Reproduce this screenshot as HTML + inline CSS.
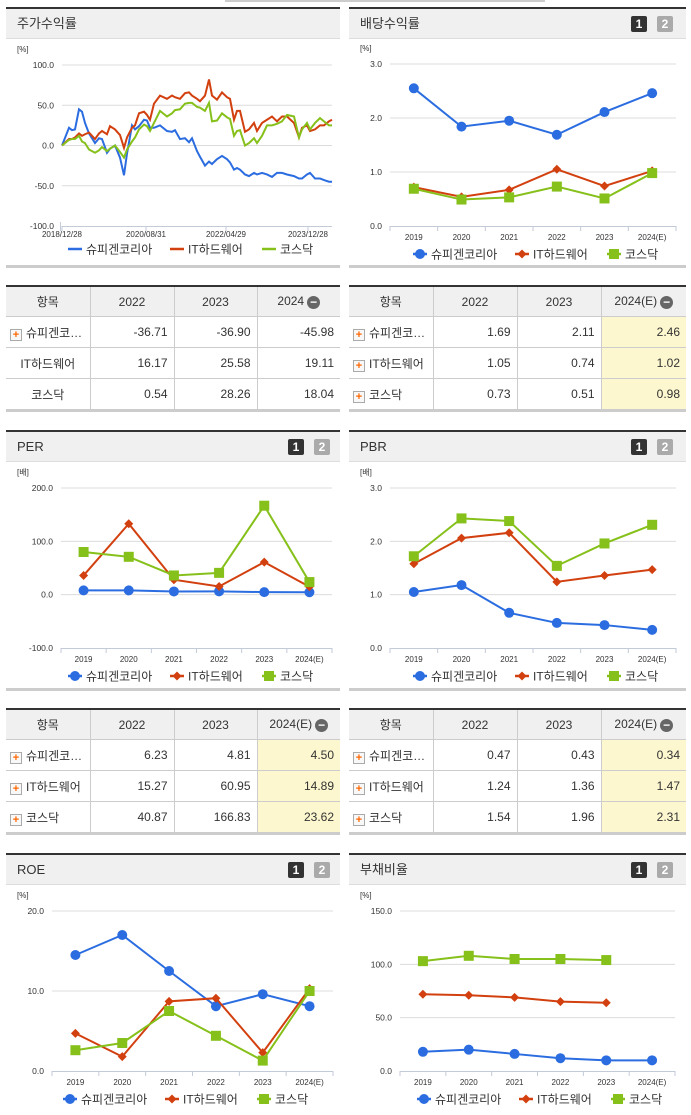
<!DOCTYPE html>
<html><head><meta charset="utf-8">
<style>
body{margin:0;width:691px;height:1115px;position:relative;background:#fff;font-family:"Liberation Sans","Noto Sans CJK KR",sans-serif;overflow:hidden;color:#333}
.panel{position:absolute;border-top:2px solid #333;border-bottom:3px solid #ccc}
.hdr{height:29px;background:#f0f0f0;border-bottom:1px solid #ddd;font-size:13px;line-height:29px;padding-left:11px;position:relative}
.btn{position:absolute;top:7px;width:16px;height:16px;font-size:12px;font-weight:bold;line-height:16px;text-align:center;color:#fff;border-radius:2px}
.b1{background:#333}.b2{background:#aaa}
table{position:absolute;border-collapse:collapse;border-top:2px solid #333;border-bottom:3px solid #ccc;font-size:12px;table-layout:fixed}
td,th{border:1px solid #ccc;height:30px;padding:0 6px;font-weight:normal}
th{background:#f0f0f0;text-align:center;height:29px}
td{text-align:right}
td.n{text-align:left;padding-left:4px;white-space:nowrap}
td.c{text-align:center}
td.h,th.h{background:#fdf7cf}
th.h{background:#f0f0f0}
.pl{display:inline-block;width:10px;height:10px;border:1px solid #aaa;background:#f8f8f8;color:#f60;font-size:11px;line-height:10px;text-align:center;font-weight:bold;margin-right:4px;vertical-align:-1px}
.mi{display:inline-block;width:13px;height:13px;border-radius:50%;background:#666;color:#fff;line-height:12px;font-size:12px;text-align:center;font-weight:bold;vertical-align:-1px;margin-left:3px}
table tr td:first-child,table tr th:first-child{border-left:none}
table tr td:last-child,table tr th:last-child{border-right:none}
</style></head><body>
<div style="position:absolute;left:225px;top:0;width:320px;height:2px;background:#ccc"></div>

<div class="panel" style="left:6px;top:7px;width:334px;height:256px"><div class="hdr">주가수익률</div></div>
<div class="panel" style="left:349px;top:7px;width:337px;height:256px"><div class="hdr">배당수익률<span class="btn b1" style="left:282px">1</span><span class="btn b2" style="left:308px">2</span></div></div>
<div class="panel" style="left:6px;top:430px;width:334px;height:256px"><div class="hdr">PER<span class="btn b1" style="left:282px">1</span><span class="btn b2" style="left:308px">2</span></div></div>
<div class="panel" style="left:349px;top:430px;width:337px;height:256px"><div class="hdr">PBR<span class="btn b1" style="left:282px">1</span><span class="btn b2" style="left:308px">2</span></div></div>
<div class="panel" style="left:6px;top:853px;width:334px;height:260px;border-bottom:none"><div class="hdr">ROE<span class="btn b1" style="left:282px">1</span><span class="btn b2" style="left:308px">2</span></div></div>
<div class="panel" style="left:349px;top:853px;width:337px;height:260px;border-bottom:none"><div class="hdr">부채비율<span class="btn b1" style="left:282px">1</span><span class="btn b2" style="left:308px">2</span></div></div>

<table style="left:6px;top:285px;width:334px">
<colgroup><col style="width:84px"><col style="width:84px"><col style="width:83px"><col style="width:83px"></colgroup>
<tr><th>항목</th><th>2022</th><th>2023</th><th>2024<span class="mi">−</span></th></tr>
<tr><td class="n"><span class="pl">+</span>슈피겐코…</td><td>-36.71</td><td>-36.90</td><td>-45.98</td></tr>
<tr><td class="c">IT하드웨어</td><td>16.17</td><td>25.58</td><td>19.11</td></tr>
<tr><td class="c">코스닥</td><td>0.54</td><td>28.26</td><td>18.04</td></tr>
</table>
<table style="left:349px;top:285px;width:337px">
<colgroup><col style="width:84px"><col style="width:84px"><col style="width:84px"><col style="width:85px"></colgroup>
<tr><th>항목</th><th>2022</th><th>2023</th><th>2024(E)<span class="mi">−</span></th></tr>
<tr><td class="n"><span class="pl">+</span>슈피겐코…</td><td>1.69</td><td>2.11</td><td class="h">2.46</td></tr>
<tr><td class="n"><span class="pl">+</span>IT하드웨어</td><td>1.05</td><td>0.74</td><td class="h">1.02</td></tr>
<tr><td class="n"><span class="pl">+</span>코스닥</td><td>0.73</td><td>0.51</td><td class="h">0.98</td></tr>
</table>
<table style="left:6px;top:708px;width:334px">
<colgroup><col style="width:84px"><col style="width:84px"><col style="width:83px"><col style="width:83px"></colgroup>
<tr><th>항목</th><th>2022</th><th>2023</th><th>2024(E)<span class="mi">−</span></th></tr>
<tr><td class="n"><span class="pl">+</span>슈피겐코…</td><td>6.23</td><td>4.81</td><td class="h">4.50</td></tr>
<tr><td class="n"><span class="pl">+</span>IT하드웨어</td><td>15.27</td><td>60.95</td><td class="h">14.89</td></tr>
<tr><td class="n"><span class="pl">+</span>코스닥</td><td>40.87</td><td>166.83</td><td class="h">23.62</td></tr>
</table>
<table style="left:349px;top:708px;width:337px">
<colgroup><col style="width:84px"><col style="width:84px"><col style="width:84px"><col style="width:85px"></colgroup>
<tr><th>항목</th><th>2022</th><th>2023</th><th>2024(E)<span class="mi">−</span></th></tr>
<tr><td class="n"><span class="pl">+</span>슈피겐코…</td><td>0.47</td><td>0.43</td><td class="h">0.34</td></tr>
<tr><td class="n"><span class="pl">+</span>IT하드웨어</td><td>1.24</td><td>1.36</td><td class="h">1.47</td></tr>
<tr><td class="n"><span class="pl">+</span>코스닥</td><td>1.54</td><td>1.96</td><td class="h">2.31</td></tr>
</table>

<svg id="s" width="691" height="1115" style="position:absolute;left:0;top:0"></svg>

<script>
// ---- data ----
const stockWeeks=[0,7,10,13,17,20,23,27,33,37,40,45,48,53,58,62,65,70,73,77,82,85,88,92,98,105,110,113,118,123,127,130,135,138,143,147,150,155,160,165,168,172,175,178,183,187,192,195,200,205,210,215,220,225,232,237,240,245,248,253,258,262,267,270];
const stockSpigen=[0,22,19,20,45,42,28,15,3,9,8,-9,-4,0,-15,-37,-10,25,20,24,32,31,22,22,25,18,17,19,8,9,4,9,-7,-14,-25,-20,-23,-17,-13,-17,-21,-30,-28,-30,-36,-38,-34,-36,-34,-36,-39,-34,-34,-36,-38,-41,-41,-36,-34,-41,-41,-43,-45,-45];
const stockIT=[0,8,8,10,15,12,14,16,8,15,18,14,24,20,13,-3,10,22,25,40,42,38,32,52,62,58,62,60,58,65,66,62,58,55,62,82,62,57,66,60,58,32,43,43,17,20,28,18,28,32,36,30,36,36,28,10,22,25,18,20,25,25,30,32];
const stockKosdaq=[0,7,8,8,12,5,3,-5,-9,-6,-2,-7,-4,0,-8,-15,-5,5,10,20,26,24,18,28,43,36,40,44,45,52,53,53,48,47,43,53,30,31,40,35,33,12,18,19,0,3,9,3,12,25,25,27,30,38,36,10,20,28,20,28,34,30,25,25];
const stockTickWeeks=[0,84,164,246];
const stockTickLabels=["2018/12/28","2020/08/31","2022/04/29","2023/12/28"];
const stockYTicks=[100,50,0,-50,-100];

const years=["2019","2020","2021","2022","2023","2024(E)"];
const divSpigen=[2.55,1.84,1.95,1.69,2.11,2.46];
const divIT=[0.72,0.54,0.67,1.05,0.74,1.02];
const divKosdaq=[0.69,0.49,0.53,0.73,0.51,0.98];
const divYTicks=[3,2,1,0];

const perSpigen=[8,8,6,6.23,4.81,4.5];
const perIT=[36,133,28,15.27,60.95,14.89];
const perKosdaq=[80,71,36,40.87,166.83,23.62];
const perYTicks=[200,100,0,-100];

const pbrSpigen=[1.05,1.18,0.66,0.47,0.43,0.34];
const pbrIT=[1.58,2.06,2.16,1.24,1.36,1.47];
const pbrKosdaq=[1.72,2.43,2.38,1.54,1.96,2.31];
const pbrYTicks=[3,2,1,0];

const roeSpigen=[14.5,17,12.5,8.1,9.6,8.1];
const roeIT=[4.7,1.8,8.7,9.1,2.3,10.3];
const roeKosdaq=[2.6,3.5,7.5,4.4,1.3,10];
const roeYTicks=[20,10,0];

const debtSpigen=[18,20,16,12,10,10];
const debtIT=[72,71,69,65,64];
const debtKosdaq=[103,108,105,105,104];
const debtYTicks=[150,100,50,0];

const names=["슈피겐코리아","IT하드웨어","코스닥"];
const colors=["#2b6de0","#d2400f","#86c01a"];

// ---- drawing ----
const svg=document.getElementById('s');
const NS="http://www.w3.org/2000/svg";
function mk(tag,attrs,parent){const e=document.createElementNS(NS,tag);for(const k in attrs)e.setAttribute(k,attrs[k]);(parent||svg).appendChild(e);return e;}
function txt(x,y,s,size,anchor,parent){const t=mk('text',{x:x,y:y,'font-size':size,'text-anchor':anchor||'start',fill:'#333','font-family':'"Liberation Sans","Noto Sans CJK KR",sans-serif'},parent);t.textContent=s;return t;}

function marker(g,kind,x,y,c){
  if(kind===0){const m=mk('circle',{cx:x,cy:y,r:5,fill:c},g);}
  else if(kind===1){const m=mk('polygon',{points:`${x},${y-4.5} ${x+4.5},${y} ${x},${y+4.5} ${x-4.5},${y}`,fill:c},g);}
  else {const m=mk('rect',{x:x-5,y:y-5,width:10,height:10,fill:c},g);}
}

function axes(cfg,yScale,name){
  const g=mk('g',{});
  
  
  txt(cfg.unitX,cfg.top-13,cfg.unit,8,'start',g);
  cfg.yTicks.forEach(v=>{
    const y=yScale(v);
    if(v!==cfg.yMin) mk('line',{x1:cfg.L,x2:cfg.R,y1:y,y2:y,stroke:'#dcdcdc','stroke-width':1},g);
    const t=txt(cfg.L-8,y+3,v.toFixed(1),8.5,'end',g);
    
  });
  mk('line',{x1:cfg.L,x2:cfg.R,y1:cfg.bottom+0.5,y2:cfg.bottom+0.5,stroke:'#c3cad8','stroke-width':1},g);
}

function legend(cx,y,lines){
  const g=mk('g',{});
  
  
  const widths=[84,74,52];
  let x=cx-105;
  names.forEach((n,i)=>{
    const e=mk('g',{},g);
    
    
    mk('line',{x1:x,x2:x+14,y1:y,y2:y,stroke:colors[i],'stroke-width':2.5},e);
    if(!lines) marker(e,i,x+7,y,colors[i]);
    txt(x+18,y+4.5,n,12,'start',e);
    x+=widths[i]+18;
  });
}

function catChart(cfg,name,series){
  const yScale=v=>cfg.bottom-(v-cfg.yMin)/(cfg.yMax-cfg.yMin)*(cfg.bottom-cfg.top);
  const step=(cfg.R-cfg.L)/years.length;
  const xScale=i=>cfg.L+step*(i+0.5);
  axes(cfg,yScale,name);
  for(let i=0;i<=years.length;i++){const x=cfg.L+step*i;mk('line',{x1:x,x2:x,y1:cfg.bottom,y2:cfg.bottom+5,stroke:'#c3cad8'});}
  years.forEach((yr,i)=>{const t=txt(xScale(i),cfg.bottom+14,yr,8,'middle');});
  series.forEach((arr,si)=>{
    const g=mk('g',{});
    
    
    const pts=arr.map((v,i)=>xScale(i)+','+yScale(v)).join(' ');
    mk('polyline',{points:pts,fill:'none',stroke:colors[si],'stroke-width':2},g);
    arr.forEach((v,i)=>marker(g,si,xScale(i),yScale(v),colors[si]));
  });
  legend(cfg.legendX,cfg.bottom+28,false);
}

// stock chart (time-based)
(function(){
  const cfg={L:62,R:332,top:65,bottom:226,yMin:-100,yMax:100,yTicks:stockYTicks,unit:'[%]',unitX:17};
  const yScale=v=>cfg.bottom-(v-cfg.yMin)/(cfg.yMax-cfg.yMin)*(cfg.bottom-cfg.top);
  const xScale=w=>cfg.L+w*(cfg.R-cfg.L)/270;
  axes(cfg,yScale,'stock');
  mk('line',{x1:cfg.L-1.5,x2:cfg.L-1.5,y1:cfg.bottom-4,y2:cfg.bottom+5,stroke:'#c3cad8'});
  stockTickWeeks.forEach((w,i)=>{
    mk('line',{x1:xScale(w),x2:xScale(w),y1:cfg.bottom,y2:cfg.bottom+5,stroke:'#c3cad8'});
    const t=txt(xScale(w),cfg.bottom+11,stockTickLabels[i],8,'middle');
    
  });
  [stockSpigen,stockIT,stockKosdaq].forEach((arr,si)=>{
    const p=mk('polyline',{points:arr.map((v,i)=>xScale(stockWeeks[i])+','+yScale(v)).join(' '),fill:'none',stroke:colors[si],'stroke-width':2});
    
    
  });
  legend(173,249,true);
})();

catChart({L:390,R:676,top:64,bottom:226,yMin:0,yMax:3,yTicks:divYTicks,unit:'[%]',unitX:360,legendX:518},'dividend',[divSpigen,divIT,divKosdaq]);
catChart({L:61,R:332,top:488,bottom:648,yMin:-100,yMax:200,yTicks:perYTicks,unit:'[배]',unitX:17,legendX:173},'per',[perSpigen,perIT,perKosdaq]);
catChart({L:390,R:676,top:488,bottom:648,yMin:0,yMax:3,yTicks:pbrYTicks,unit:'[배]',unitX:360,legendX:518},'pbr',[pbrSpigen,pbrIT,pbrKosdaq]);
catChart({L:52,R:333,top:911,bottom:1071,yMin:0,yMax:20,yTicks:roeYTicks,unit:'[%]',unitX:17,legendX:168},'roe',[roeSpigen,roeIT,roeKosdaq]);
catChart({L:400,R:675,top:911,bottom:1071,yMin:0,yMax:150,yTicks:debtYTicks,unit:'[%]',unitX:360,legendX:522},'debt',[debtSpigen,debtIT,debtKosdaq]);
</script>
</body></html>
